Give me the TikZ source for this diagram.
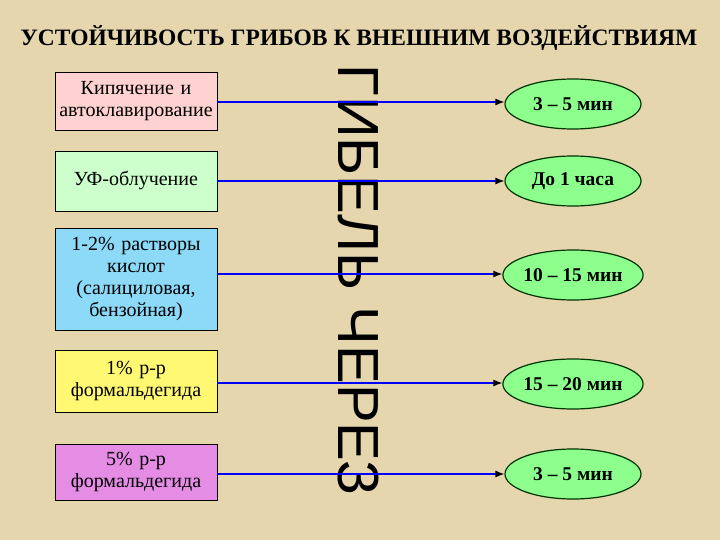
\documentclass[tikz,border=0pt]{standalone}
\usepackage{fontspec}
\setmainfont{Liberation Serif}
\newfontfamily\vsans{Liberation Sans}
\usetikzlibrary{shapes.geometric,arrows.meta}
\definecolor{bg}{HTML}{E6D6AE}
\tikzset{
 lbox/.style={draw=black,line width=0.8pt,minimum width=162pt,text width=160pt,align=center,font=\fontsize{20}{22}\selectfont,inner sep=1pt},
 ell/.style={ellipse,draw=black!80!green,line width=1.2pt,fill=green!45!white,minimum width=136pt,minimum height=50pt,inner sep=0pt,font=\fontsize{19.5}{21}\selectfont\bfseries},
 conn/.style={draw=blue,line width=1.2pt,-{Latex[black,length=9pt,width=7pt]}}
}
\begin{document}
\begin{tikzpicture}[x=1pt,y=-1pt]
\fill[bg] (0,0) rectangle (720,540);
\useasboundingbox (0,0) rectangle (720,540);
\node[font=\fontsize{23.5}{25}\selectfont\bfseries] (title) at (359,38) {УСТОЙЧИВОСТЬ ГРИБОВ К ВНЕШНИМ ВОЗДЕЙСТВИЯМ};
\node[lbox,fill=pink!70,minimum height=58pt] (b1) at (136,101) {Кипячение и\\автоклавирование};
\node[lbox,fill=green!20,minimum height=60pt] (b2) at (136,181) {УФ-облучение};
\node[lbox,fill=cyan!45,minimum height=102pt] (b3) at (136,279) {1-2\% растворы\\кислот\\(салициловая,\\бензойная)};
\node[lbox,fill=yellow!55,minimum height=62pt] (b4) at (136,381) {1\% р-р\\формальдегида};
\node[lbox,fill=violet!45!magenta!45,minimum height=56pt] (b5) at (136,472) {5\% р-р\\формальдегида};
\node[rotate=-90,font=\vsans\fontsize{58}{60}\selectfont] (v) at (358,280) {ГИБЕЛЬ ЧЕРЕЗ};
\node[ell] (e1) at (573,104) {3 – 5 мин};
\node[ell] (e2) at (573,181) {До 1 часа};
\node[ell] (e3) at (573,275) {10 – 15 мин};
\node[ell] (e4) at (573,384) {15 – 20 мин};
\node[ell] (e5) at (573,474) {3 – 5 мин};
\draw[conn] (b1.east|-0,102) -- (e1.west|-0,102);
\draw[conn] (b2.east) -- (e2.west);
\draw[conn] (b3.east|-0,274) -- (e3.west|-0,274);
\draw[conn] (b4.east|-0,383) -- (e4.west|-0,383);
\draw[conn] (b5.east|-0,474) -- (e5.west);
\end{tikzpicture}
\end{document}
